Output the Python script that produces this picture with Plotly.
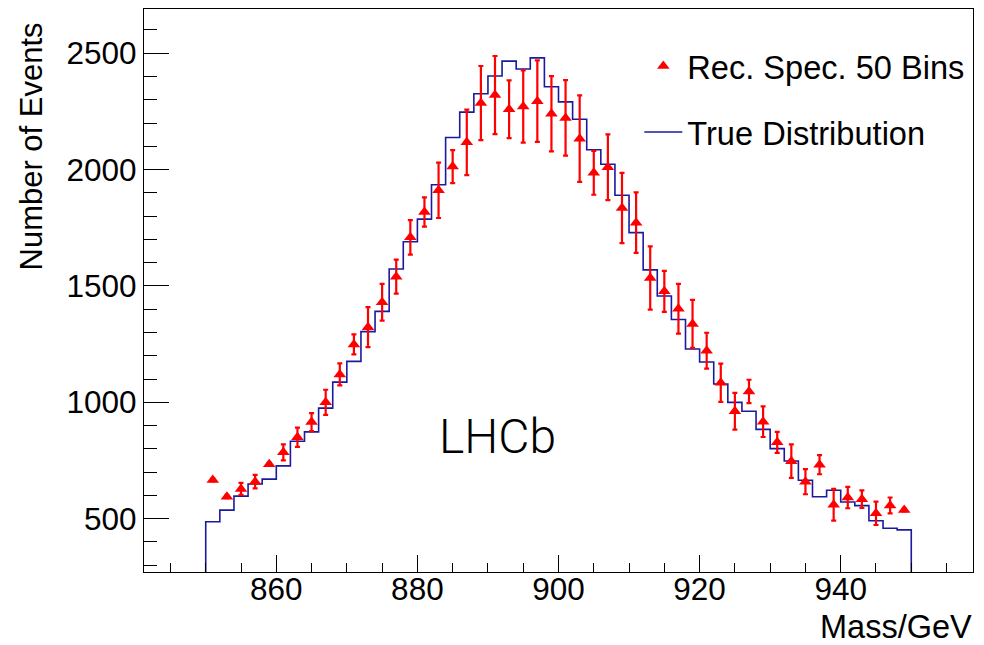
import numpy as np
import plotly.graph_objects as go

# ---------------- data ----------------
BIN_LOW = 850.0
BIN_WIDTH = 2.0

true_counts = [487, 537, 597, 649, 670, 727, 833, 873, 975, 1087,
               1176, 1304, 1391, 1573, 1690, 1787, 1935, 2138, 2247, 2326,
               2402, 2466, 2432, 2480, 2356, 2291, 2216, 2085, 2023, 1890,
               1729, 1569, 1457, 1356, 1229, 1173, 1079, 1000, 962, 884,
               801, 748, 665, 594, 622, 572, 556, 491, 459, 452]

rec_counts = [666, 594, 628, 659, 734, 785, 850, 915, 1000, 1120,
              1249, 1323, 1430, 1540, 1709, 1818, 1911, 2013, 2117, 2286,
              2320, 2259, 2271, 2294, 2240, 2222, 2133, 1986, 2010, 1835,
              1772, 1534, 1477, 1402, 1337, 1222, 1084, 962, 1047, 917,
              828, 747, 659, 732, 560, 591, 584, 523, 557, 537]

rec_errors = [6, 6, 26, 29, 6, 34, 41, 39, 54, 47,
              43, 86, 79, 73, 74, 63, 119, 71, 141, 159,
              168, 124, 155, 175, 162, 162, 186, 94, 141, 151,
              130, 136, 88, 107, 103, 77, 82, 79, 50, 66,
              45, 72, 54, 41, 68, 46, 38, 50, 34, 6]

x_ticks = [860, 880, 900, 920, 940]
y_ticks = [500, 1000, 1500, 2000, 2500]

x_range = [841.25, 958.75]
y_range = [271, 2690]

legend_rec = "Rec. Spec. 50 Bins"
legend_true = "True Distribution"
x_title = "Mass/GeV"
y_title = "Number of Events"
label_text = "LHCb"

# ---------------- derived ----------------
n = len(true_counts)
edges = BIN_LOW + BIN_WIDTH * np.arange(n + 1)
centers = edges[:-1] + BIN_WIDTH / 2

step_x = [edges[0]] + list(edges) + [edges[-1]]
step_y = [0] + list(true_counts) + [true_counts[-1], 0]

FONT = "Liberation Sans, Arial, Helvetica, sans-serif"

fig = go.Figure()

fig.add_trace(go.Scatter(
    x=step_x, y=step_y, mode="lines", line_shape="hv",
    line=dict(color="#1a1aa0", width=1.6),
    name=legend_true, legend="legend2",
))

fig.add_trace(go.Scatter(
    x=centers, y=rec_counts, mode="markers",
    marker=dict(symbol="triangle-up", size=11, color="#ff0000"),
    error_y=dict(type="data", array=rec_errors, visible=True,
                 color="#ff0000", thickness=2.2, width=2.5),
    name=legend_rec, legend="legend",
))

fig.update_layout(
    width=984, height=645,
    margin=dict(l=144, r=11, t=9, b=73),
    plot_bgcolor="white", paper_bgcolor="white",
    font=dict(family=FONT, color="black", size=31),
    showlegend=True,
    legend=dict(x=0.5975, y=0.898, xanchor="left", yanchor="middle",
                font=dict(size=32.6), bgcolor="rgba(0,0,0,0)",
                itemwidth=38),
    legend2=dict(x=0.5975, y=0.781, xanchor="left", yanchor="middle",
                 font=dict(size=32.6), bgcolor="rgba(0,0,0,0)",
                 itemwidth=38),
)

fig.update_xaxes(
    range=x_range, tickmode="array", tickvals=x_ticks,
    ticks="inside", ticklen=17, tickwidth=1, tickcolor="black",
    minor=dict(dtick=5, tick0=840, ticks="inside", ticklen=8.5,
               tickwidth=1, tickcolor="black", showgrid=False),
    showline=True, linecolor="black", linewidth=1.2, mirror=True,
    showgrid=False, zeroline=False, ticklabelstandoff=-11,
    tickfont=dict(size=31.5),
)
fig.update_yaxes(
    range=y_range, tickmode="array", tickvals=y_ticks,
    ticks="inside", ticklen=25, tickwidth=1, tickcolor="black",
    minor=dict(dtick=100, tick0=0, ticks="inside", ticklen=12.5,
               tickwidth=1, tickcolor="black", showgrid=False),
    showline=True, linecolor="black", linewidth=1.2, mirror=True,
    showgrid=False, zeroline=False,
    tickfont=dict(size=31.5),
)

fig.add_annotation(
    text=x_title, xref="paper", yref="paper", x=1.0, y=0,
    xanchor="right", yanchor="top", yshift=-35, xshift=1, showarrow=False,
    font=dict(size=32.5),
)
fig.add_annotation(
    text=y_title, xref="paper", yref="paper", x=0, y=(572 - 146.5) / 563,
    xanchor="center", yanchor="middle", xshift=-113, textangle=-90,
    showarrow=False, font=dict(size=31),
)
fig.add_annotation(
    text=label_text, xref="x", yref="y", x=891.3, y=854,
    xanchor="center", yanchor="middle", showarrow=False,
    font=dict(size=48, family="Roboto, Liberation Sans, sans-serif",
              weight=300),
)

fig.write_html("out.html")
